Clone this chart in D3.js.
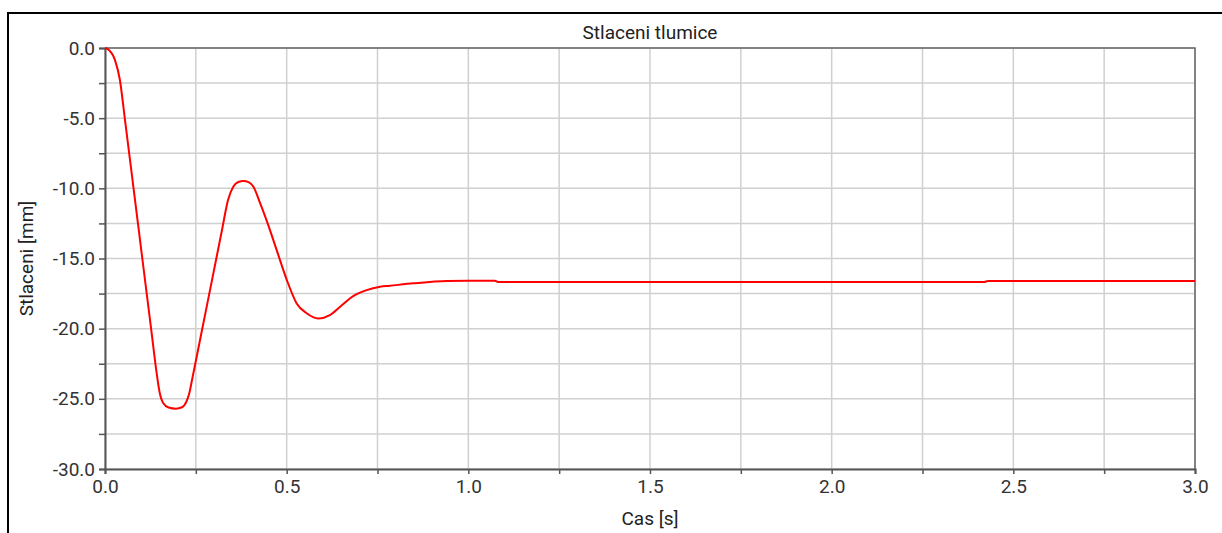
<!DOCTYPE html>
<html><head><meta charset="utf-8">
<script src="https://cdn.jsdelivr.net/npm/d3@7/dist/d3.min.js"></script>
<style>body{margin:0;background:#fff;} text{font-family:Roboto,"Liberation Sans",sans-serif;}</style>
</head><body>
<svg id="c" width="1222" height="533"></svg>
<script>
const title = "Stlaceni tlumice";
const xLabel = "Cas [s]";
const yLabel = "Stlaceni [mm]";
const xTicks = [0, 0.5, 1.0, 1.5, 2.0, 2.5, 3.0];
const yTicks = [0, -5, -10, -15, -20, -25, -30];
const xGrid = d3.range(0, 3.001, 0.25);
const yGrid = d3.range(0, -30.001, -2.5);
const times = [0, 0.01, 0.0275, 0.041, 0.055, 0.0786, 0.1027, 0.1269, 0.1413, 0.150, 0.160, 0.175, 0.195, 0.212, 0.224, 0.232, 0.2395, 0.267, 0.2945, 0.322, 0.3386, 0.353, 0.367, 0.381, 0.395, 0.409, 0.424, 0.445, 0.4725, 0.5, 0.5275, 0.555, 0.587, 0.619, 0.647, 0.683, 0.72, 0.757, 0.784, 0.849, 0.94, 1.0, 1.073, 1.083, 2.42, 2.43, 3.0];
const values = [0, -0.12, -0.86, -2.28, -5.13, -10, -15, -20, -23, -24.5, -25.3, -25.62, -25.7, -25.6, -25.2, -24.6, -23.66, -20.1, -16.54, -12.97, -10.83, -9.88, -9.55, -9.48, -9.56, -9.9, -10.85, -12.3, -14.4, -16.5, -18.2, -18.9, -19.27, -19.03, -18.44, -17.68, -17.25, -17.01, -16.94, -16.77, -16.6, -16.58, -16.58, -16.68, -16.68, -16.6, -16.6];

const svg = d3.select("#c");
const L = 105, R = 1195, T = 48, B = 469;
const x = d3.scaleLinear().domain([0, 3]).range([L, R]);
const y = d3.scaleLinear().domain([0, -30]).range([T, B]);
const fs = 19;

// outer frame (clipped)
svg.append("path").attr("d", `M8,533 L8,13 L1222,13`).attr("fill","none").attr("stroke","#000").attr("stroke-width",2);

// grid
svg.append("g").selectAll("line").data(xGrid).join("line")
  .attr("x1", d=>x(d)).attr("x2", d=>x(d)).attr("y1", T).attr("y2", B)
  .attr("stroke","#d0d0d0").attr("stroke-width",1.5);
svg.append("g").selectAll("line").data(yGrid).join("line")
  .attr("x1", L).attr("x2", R).attr("y1", d=>y(d)).attr("y2", d=>y(d))
  .attr("stroke","#d0d0d0").attr("stroke-width",1.5);

// plot border top/right
svg.append("path").attr("d", `M${L},${T} L${R},${T} L${R},${B}`).attr("fill","none").attr("stroke","#666").attr("stroke-width",1.5);

// axes
const xAxis = d3.axisBottom(x).tickValues(xGrid).tickSize(5).tickPadding(6).tickFormat(d => xTicks.some(t=>Math.abs(t-d)<1e-9) ? d.toFixed(1) : "");
const gx = svg.append("g").attr("transform", `translate(0,${B})`).call(xAxis);
gx.select(".domain").attr("stroke","#555").attr("stroke-width",2);
gx.selectAll(".tick line").attr("stroke","#555").attr("stroke-width",1.5);
gx.selectAll(".tick text").attr("font-size",fs).attr("fill","#333").attr("font-family","Roboto,sans-serif");

const yAxis = d3.axisLeft(y).tickValues(yGrid).tickSize(6).tickPadding(4).tickFormat(d => yTicks.some(t=>Math.abs(t-d)<1e-9) ? d.toFixed(1) : "");
const gy = svg.append("g").attr("transform", `translate(${L},0)`).call(yAxis);
gy.select(".domain").attr("stroke","#555").attr("stroke-width",2);
gy.selectAll(".tick line").attr("stroke","#555").attr("stroke-width",1.5);
gy.selectAll(".tick text").attr("font-size",fs).attr("fill","#333").attr("font-family","Roboto,sans-serif");

// line
const data = times.map((t,i)=>({t, v: values[i]}));
svg.append("path").datum(data)
  .attr("d", d3.line().x(d=>x(d.t)).y(d=>y(d.v)).curve(d3.curveMonotoneX))
  .attr("fill","none").attr("stroke","#ff0000").attr("stroke-width",2);

// labels
svg.append("text").attr("x", (L+R)/2).attr("y", 39).attr("text-anchor","middle").attr("font-size",fs).attr("fill","#222").text(title);
svg.append("text").attr("x", (L+R)/2).attr("y", 525).attr("text-anchor","middle").attr("font-size",fs).attr("fill","#222").text(xLabel);
svg.append("text").attr("transform", `translate(33,${(T+B)/2}) rotate(-90)`).attr("text-anchor","middle").attr("font-size",fs).attr("fill","#222").text(yLabel);
</script>
</body></html>
